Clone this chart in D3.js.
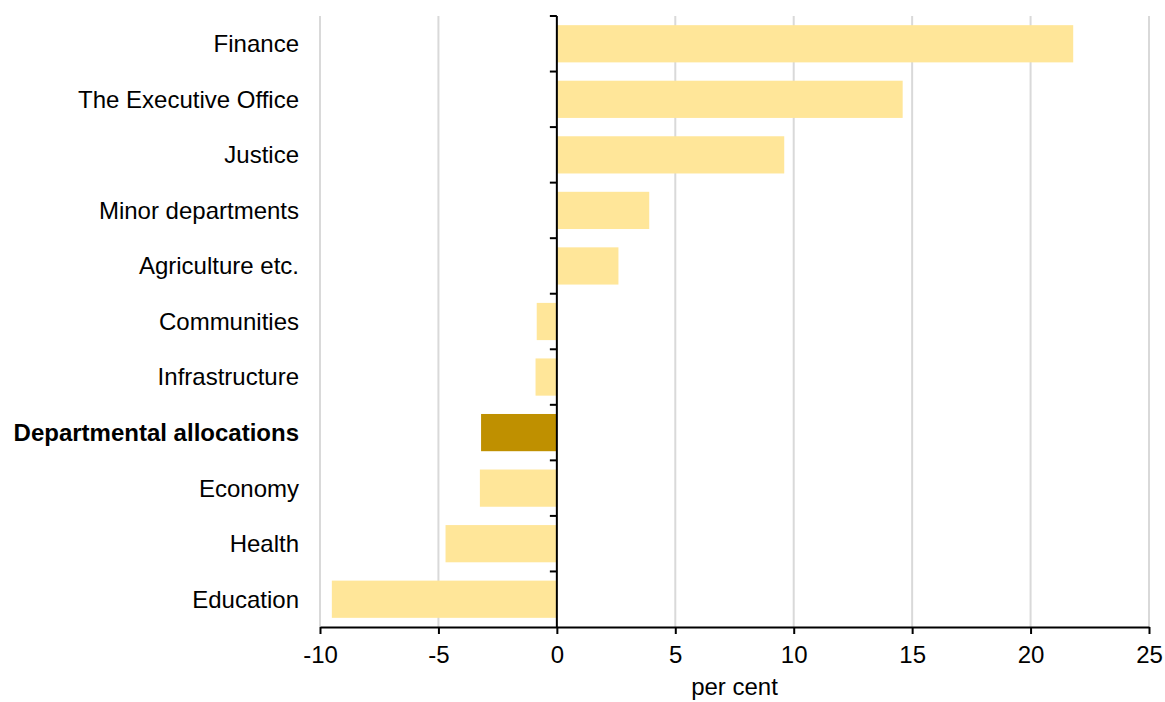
<!DOCTYPE html>
<html>
<head>
<meta charset="utf-8">
<script src="https://cdn.jsdelivr.net/npm/d3@7"></script>
<style>
  html, body { margin: 0; padding: 0; background: #fff; }
  svg { display: block; }
  text { font-family: "Liberation Sans", Arial, sans-serif; fill: #000; }
</style>
</head>
<body>
<svg id="chart" width="1165" height="702"></svg>
<script>
// Year-on-year change in allocation by department, per cent
const categories = [
  "Finance", "The Executive Office", "Justice", "Minor departments",
  "Agriculture etc.", "Communities", "Infrastructure",
  "Departmental allocations", "Economy", "Health", "Education"
];
const values = [21.8, 14.6, 9.6, 3.9, 2.6, -0.85, -0.9, -3.2, -3.25, -4.7, -9.5];
const totalLabel = "Departmental allocations";
const xTicks = [-10, -5, 0, 5, 10, 15, 20, 25];
const xTitle = "per cent";

const svg = d3.select("#chart");
const margin = { top: 16, right: 16, bottom: 75, left: 320 };
const W = 1165, H = 702;
const plotRight = W - margin.right;
const plotBottom = H - margin.bottom;
const fontSize = 24;

const x = d3.scaleLinear().domain([-10, 25]).range([margin.left, plotRight]);
const y = d3.scaleBand().domain(categories).range([margin.top, plotBottom]).paddingInner(0.33).paddingOuter(0.165);
const band = d3.scaleBand().domain(categories).range([margin.top, plotBottom]);

// vertical gridlines
svg.append("g")
  .selectAll("line")
  .data(xTicks.filter(d => d !== 0))
  .join("line")
  .attr("x1", d => x(d)).attr("x2", d => x(d))
  .attr("y1", margin.top).attr("y2", plotBottom)
  .attr("stroke", "#d9d9d9").attr("stroke-width", 2);

// bars
svg.append("g")
  .selectAll("rect")
  .data(categories.map((c, i) => ({ c, v: values[i] })))
  .join("rect")
  .attr("x", d => x(Math.min(0, d.v)))
  .attr("width", d => Math.abs(x(d.v) - x(0)))
  .attr("y", d => y(d.c))
  .attr("height", y.bandwidth())
  .attr("fill", d => d.c === totalLabel ? "#bf9000" : "#ffe699");

// zero axis with category boundary ticks
const zero = svg.append("g");
zero.append("line")
  .attr("x1", x(0)).attr("x2", x(0))
  .attr("y1", margin.top).attr("y2", plotBottom)
  .attr("stroke", "#000").attr("stroke-width", 2);
zero.selectAll("line.tick")
  .data(categories)
  .join("line")
  .attr("class", "tick")
  .attr("x1", x(0) - 7).attr("x2", x(0))
  .attr("y1", d => band(d)).attr("y2", d => band(d))
  .attr("stroke", "#000").attr("stroke-width", 2);

// category labels
svg.append("g")
  .selectAll("text")
  .data(categories)
  .join("text")
  .attr("x", 299)
  .attr("y", d => band(d) + band.bandwidth() / 2)
  .attr("dy", "0.35em")
  .attr("text-anchor", "end")
  .attr("font-size", fontSize)
  .attr("font-weight", d => d === totalLabel ? "bold" : "normal")
  .text(d => d);

// bottom axis
const xAxis = svg.append("g")
  .attr("transform", `translate(0,${plotBottom})`)
  .call(d3.axisBottom(x).tickValues(xTicks).tickFormat(d => String(d))
    .tickSize(7).tickSizeOuter(0).tickPadding(12));
xAxis.select(".domain").attr("stroke", "#000").attr("stroke-width", 2);
xAxis.selectAll(".tick line").attr("stroke", "#000").attr("stroke-width", 2);
xAxis.selectAll(".tick text")
  .attr("font-size", fontSize)
  .attr("font-family", "Liberation Sans, Arial, sans-serif")
  .attr("fill", "#000");

svg.append("text")
  .attr("x", (margin.left + plotRight) / 2)
  .attr("y", 695)
  .attr("text-anchor", "middle")
  .attr("font-size", fontSize)
  .text(xTitle);
</script>
</body>
</html>
